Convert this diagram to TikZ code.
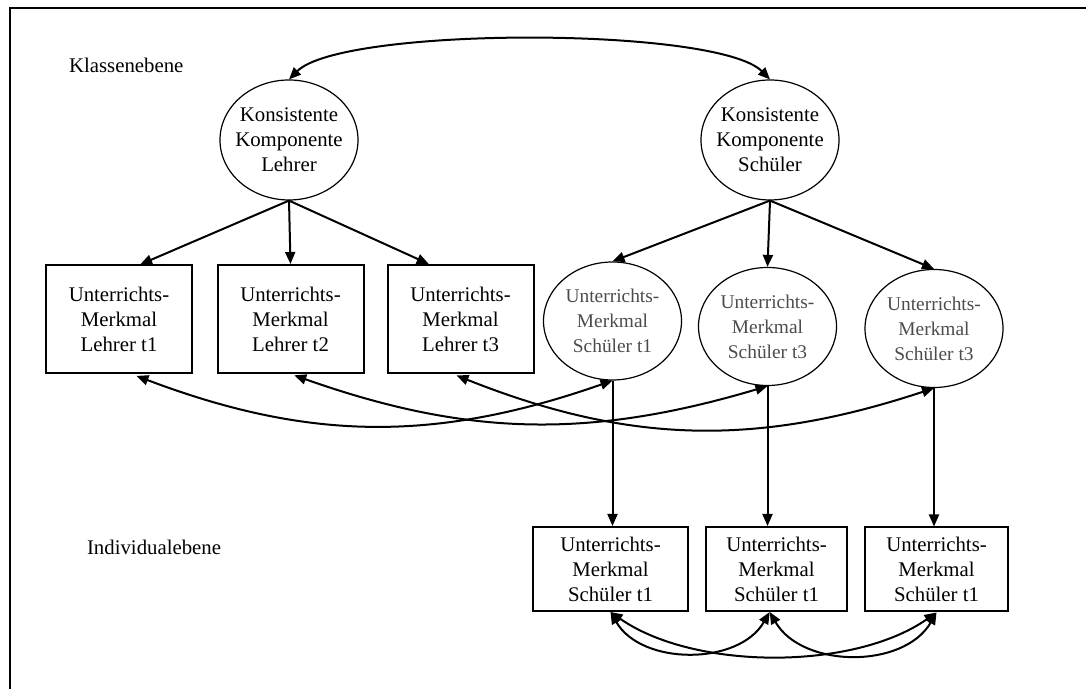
\documentclass[tikz,border=0pt]{standalone}
\usepackage{fontspec}
\setmainfont{Liberation Serif}
\usetikzlibrary{arrows.meta,shapes.geometric}

\begin{document}
\begin{tikzpicture}[x=0.5pt,y=0.5pt,
		>={Triangle[length=6pt,width=5pt]},
		every node/.style={font=\fontsize{10.4}{12.5}\selectfont, align=center},
		latent/.style={draw, ellipse, line width=0.6pt, minimum width=69pt, minimum height=60pt, inner xsep=-3pt, inner ysep=0pt},
		schueler/.style={minimum height=59pt, text=black!70, font=\fontsize{9.7}{12.5}\selectfont},
		messung/.style={draw, rectangle, line width=1pt, minimum width=73pt, minimum height=54pt, inner sep=2pt},
		pfeil/.style={line width=1pt}]
			\useasboundingbox (0,0) rectangle (1086,689);
			\draw[line width=1pt] (10,0) -- (10,681) -- (1086,681);
			\node[anchor=west] (klasse) at (62,624) {Klassenebene};
			\node[anchor=west] (indiv) at (80,142) {Individualebene};
			\node[latent] (kkl) at (289,549) {Konsistente\\Komponente\\Lehrer};
			\node[latent] (kks) at (770,549) {Konsistente\\Komponente\\Schüler};
			\node[messung] (ul1) at (119,369.5) {Unterrichts-\\Merkmal\\Lehrer t1};
			\node[messung] (ul2) at (290.5,370) {Unterrichts-\\Merkmal\\Lehrer t2};
			\node[messung] (ul3) at (460.5,370) {Unterrichts-\\Merkmal\\Lehrer t3};
			\node[latent,schueler] (us1) at (612.5,368) {Unterrichts-\\Merkmal\\Schüler t1};
			\node[latent,schueler] (us2) at (767.5,362.5) {Unterrichts-\\Merkmal\\Schüler t3};
			\node[latent,schueler] (us3) at (934,360.5) {Unterrichts-\\Merkmal\\Schüler t3};
			\node[messung, minimum width=77.5pt, minimum height=42pt] (is1) at (610.5,120) {Unterrichts-\\Merkmal\\Schüler t1};
			\node[messung, minimum width=70.5pt, minimum height=42pt] (is2) at (776.5,120) {Unterrichts-\\Merkmal\\Schüler t1};
			\node[messung, minimum width=71.5pt, minimum height=42pt] (is3) at (936.5,119.5) {Unterrichts-\\Merkmal\\Schüler t1};
			\path[->,pfeil]
			(kkl.south) edge (ul1.69) edge (ul2.north) edge (ul3.120)
			(kks.south) edge (us1.north) edge (us2.north) edge (us3.north)
			(us1.south) edge (us1.south |- is1.north)
			(us2.south) edge (us2.south |- is2.north)
			(us3.south) edge (us3.south |- is3.north);
			\path[<->,pfeil]
			(kkl.north) edge[out=45, in=135, looseness=0.4] (kks.north)
			(ul1.-76) edge[bend right=20, shorten <=2pt] (us1.south)
			(ul2.south) edge[bend right=18, shorten <=2pt] (us2.south)
			(ul3.-98) edge[bend right=20, shorten <=2pt] (us3.south)
			(is1.south) edge[out=-60, in=-120] (is2.-99)
			(is2.-99) edge[out=-60, in=-120] (is3.south)
			(is1.south) edge[out=-35, in=-145, looseness=0.8] (is3.south);
		\end{tikzpicture}
\end{document}
